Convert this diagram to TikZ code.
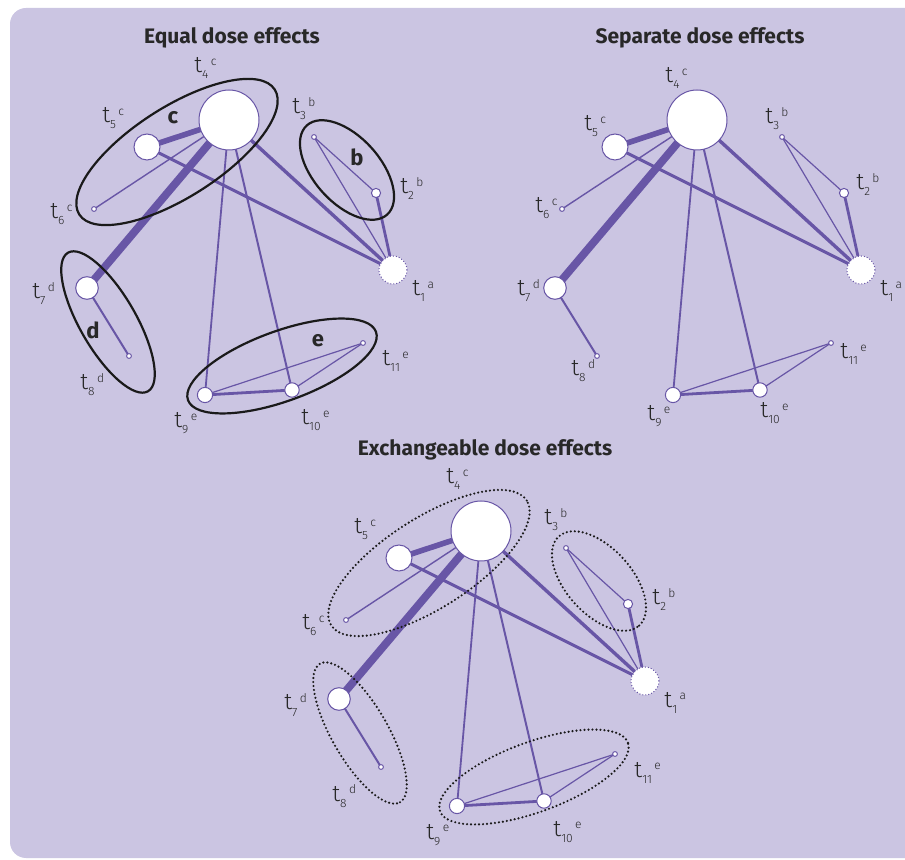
\documentclass[tikz,border=0pt]{standalone}
\usepackage{fontspec}
\setmainfont{Fira Sans}
\newfontfamily\lightfont{Fira Sans Light}
\usetikzlibrary{shapes.geometric}

\definecolor{panelbg}{RGB}{203,197,226}
\definecolor{netpurple}{RGB}{104,86,166}
\definecolor{ringblack}{RGB}{26,26,26}
\definecolor{inkgray}{RGB}{40,40,40}

\pgfdeclarelayer{bg}
\pgfdeclarelayer{edges}
\pgfsetlayers{bg,edges,main}

% treatment label: t, subscript number, then the class letter raised after a gap
\newcommand\tlab[2]{t\raisebox{-3pt}{\fontsize{6}{7}\selectfont #1}\hspace{1.2pt}\raisebox{3.7pt}{\fontsize{6}{7}\selectfont #2}}

\tikzset{
  hub/.style={circle, draw=netpurple, fill=white, line width=0.5pt, inner sep=0pt},
  tip/.style={circle, draw=netpurple, fill=white, line width=0.5pt, inner sep=0pt, minimum size=2.4pt},
  link/.style={draw=netpurple, line cap=butt},
  lab/.style={anchor=base west, inner sep=0pt, text=inkgray, font=\lightfont\fontsize{11.5}{13}\selectfont},
  panel title/.style={inner sep=0pt, text=inkgray, font=\bfseries\fontsize{10.5}{12}\selectfont},
  class letter/.style={inner sep=0pt, text=inkgray, font=\bfseries\fontsize{11}{13}\selectfont},
  cluster/.style={ellipse, draw=ringblack, line width=1.1pt, inner sep=0pt},
  solid ring/.style={},
  dotted ring/.style={dash pattern=on 0pt off 2pt, line cap=round, line width=1.2pt},
}

% treatments and comparisons of one network; #1 is the name prefix
\newcommand\dosenet[1]{%
  \node[hub, minimum size=30pt] (#1-t4) at (229,120) {};
  \node[hub, minimum size=13pt] (#1-t5) at (147,147) {};
  \node[tip] (#1-t6) at (94,209) {};
  \node[tip] (#1-t3) at (314,137) {};
  \node[hub, minimum size=4.6pt] (#1-t2) at (376,193) {};
  \node[hub, densely dotted, minimum size=14pt] (#1-t1) at (393,270) {};
  \node[hub, minimum size=11.3pt] (#1-t7) at (87,288) {};
  \node[tip] (#1-t8) at (129,356) {};
  \node[hub, minimum size=7.6pt] (#1-t9) at (205,395) {};
  \node[hub, minimum size=7.2pt] (#1-t10) at (292,390) {};
  \node[tip] (#1-t11) at (363,343) {};
  \begin{pgfonlayer}{edges}
    \draw[link, line width=3.9pt] (#1-t4.center) -- (#1-t7.center);
    \draw[link, line width=2.8pt] (#1-t4.center) -- (#1-t5.center);
    \draw[link, line width=1.7pt] (#1-t4.center) -- (#1-t1.center);
    \draw[link, line width=1.5pt] (#1-t5.center) -- (#1-t1.center);
    \draw[link, line width=1.4pt] (#1-t2.center) -- (#1-t1.center);
    \draw[link, line width=1.4pt] (#1-t9.center) -- (#1-t10.center);
    \draw[link, line width=1.0pt] (#1-t4.center) -- (#1-t10.center);
    \draw[link, line width=0.9pt] (#1-t4.center) -- (#1-t9.center);
    \draw[link, line width=1.0pt] (#1-t7.center) -- (#1-t8.center);
    \draw[link, line width=0.7pt] (#1-t4.center) -- (#1-t6.center);
    \draw[link, line width=0.6pt] (#1-t3.center) -- (#1-t1.center);
    \draw[link, line width=0.6pt] (#1-t3.center) -- (#1-t2.center);
    \draw[link, line width=0.6pt] (#1-t9.center) -- (#1-t11.center);
    \draw[link, line width=0.6pt] (#1-t10.center) -- (#1-t11.center);
  \end{pgfonlayer}
}

% labels used where the classes are ringed
\newcommand\grouplabels[1]{%
  \node[lab] (#1-l4) at (194,73) {\tlab{4}{c}};
  \node[lab] (#1-l5) at (102,123) {\tlab{5}{c}};
  \node[lab] (#1-l6) at (50,219) {\tlab{6}{c}};
  \node[lab] (#1-l3) at (292,114) {\tlab{3}{b}};
  \node[lab] (#1-l2) at (400,194) {\tlab{2}{b}};
  \node[lab] (#1-l1) at (412,296) {\tlab{1}{a}};
  \node[lab] (#1-l7) at (32,299) {\tlab{7}{d}};
  \node[lab] (#1-l8) at (80,390) {\tlab{8}{d}};
  \node[lab] (#1-l9) at (174,428) {\tlab{9}{e}};
  \node[lab] (#1-l10) at (301,425) {\tlab{10}{e}};
  \node[lab] (#1-l11) at (382,366) {\tlab{11}{e}};
}

% rings around the classes b, c, d and e; #2 is the ring style
\newcommand\classrings[2]{%
  \node[cluster, #2, minimum width=116pt, minimum height=45pt, rotate=32.6] (#1-gc) at (177,152) {};
  \node[cluster, #2, minimum width=60pt, minimum height=33pt, rotate=-48] (#1-gb) at (347,170) {};
  \node[cluster, #2, minimum width=80pt, minimum height=28pt, rotate=-60] (#1-gd) at (108,322) {};
  \node[cluster, #2, minimum width=100pt, minimum height=35pt, rotate=20] (#1-ge) at (282,366) {};
}

\begin{document}
\begin{tikzpicture}[x=0.5pt, y=-0.5pt]
  \useasboundingbox (0,0) rectangle (905,860);
  \begin{pgfonlayer}{bg}
    \begin{scope}
      \clip (0,0) rectangle (905,860);
      \fill[panelbg, rounded corners=8] (10,8) rectangle (925,858);
    \end{scope}
  \end{pgfonlayer}

  % Equal dose effects
  \node[panel title] (title-equal) at (232,38) {Equal dose effects};
  \dosenet{A}
  \classrings{A}{solid ring}
  \grouplabels{A}
  \node[class letter] (A-kc) at (173,118) {c};
  \node[class letter] (A-kb) at (357,157) {b};
  \node[class letter] (A-kd) at (93,330) {d};
  \node[class letter] (A-ke) at (318,341) {e};

  % Separate dose effects
  \node[panel title] (title-separate) at (700,38) {Separate dose effects};
  \begin{scope}[shift={(468,0)}]
    \dosenet{B}
  \end{scope}
  \node[lab] (B-l4) at (665,83) {\tlab{4}{c}};
  \node[lab] (B-l5) at (584,131) {\tlab{5}{c}};
  \node[lab] (B-l6) at (535,213) {\tlab{6}{c}};
  \node[lab] (B-l3) at (765,124) {\tlab{3}{b}};
  \node[lab] (B-l2) at (856,190) {\tlab{2}{b}};
  \node[lab] (B-l1) at (880,296) {\tlab{1}{a}};
  \node[lab] (B-l7) at (517,296) {\tlab{7}{d}};
  \node[lab] (B-l8) at (571,376) {\tlab{8}{d}};
  \node[lab] (B-l9) at (647,421) {\tlab{9}{e}};
  \node[lab] (B-l10) at (760,418) {\tlab{10}{e}};
  \node[lab] (B-l11) at (840,359) {\tlab{11}{e}};

  % Exchangeable dose effects
  \node[panel title] (title-exch) at (485,450) {Exchangeable dose effects};
  \begin{scope}[shift={(252,411)}]
    \dosenet{C}
    \classrings{C}{dotted ring}
    \grouplabels{C}
  \end{scope}
\end{tikzpicture}
\end{document}
